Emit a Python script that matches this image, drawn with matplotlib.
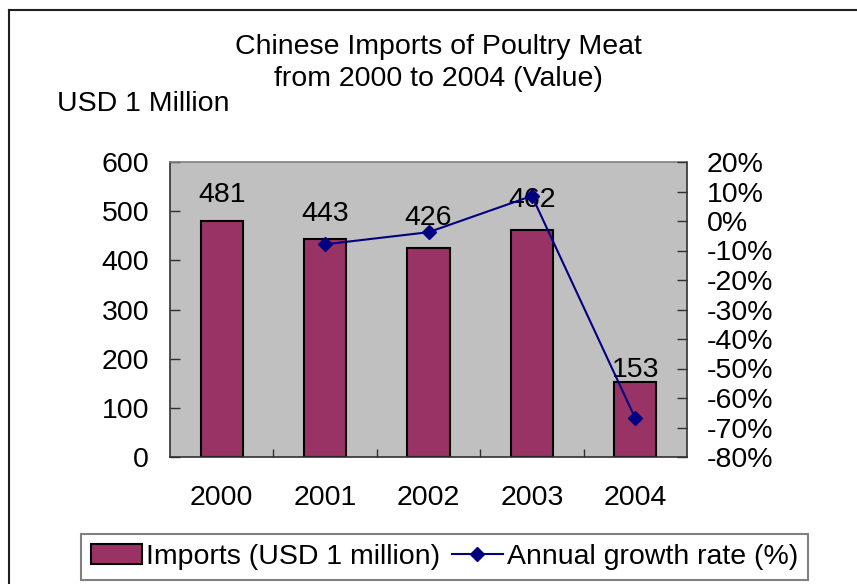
import matplotlib
matplotlib.use("Agg")
import matplotlib.pyplot as plt
from matplotlib.lines import Line2D
from matplotlib.patches import Patch
from matplotlib.ticker import FuncFormatter, MultipleLocator, FixedLocator

plt.rcParams["font.family"] = ["Liberation Sans", "DejaVu Sans"]

# Data
years = ["2000", "2001", "2002", "2003", "2004"]
imports = [481, 443, 426, 462, 153]            # USD 1 million
growth_years = ["2001", "2002", "2003", "2004"]
growth = [-7.9, -3.8, 8.5, -66.9]               # annual growth rate (%)

# Vertical offsets (points) of the value labels above each bar
label_offsets = [9, 9, 12, 12, -1]

BAR = "#993366"
LINE = "#000080"
PLOT_BG = "#C0C0C0"
FS = 20.5

fig = plt.figure(figsize=(8.57, 5.84), dpi=100)
fig.patch.set_facecolor("white")

W, H = 857, 584
left, right, top, bottom = 170, 687, 162, 457
ax = fig.add_axes([left / W, 1 - bottom / H, (right - left) / W, (bottom - top) / H])
ax.set_facecolor(PLOT_BG)

x = list(range(len(years)))
bars = ax.bar(x, imports, width=0.41, color=BAR, edgecolor="black", linewidth=1.5, zorder=2)
ax.set_xlim(-0.5, len(years) - 0.5)
ax.set_ylim(0, 600)
ax.yaxis.set_major_locator(MultipleLocator(100))
ax.set_xticks(x)
ax.set_xticklabels(years)
ax.xaxis.set_minor_locator(FixedLocator([i + 0.5 for i in range(len(years) - 1)]))
ax.tick_params(axis="x", which="major", length=0, pad=20, labelsize=FS)
ax.tick_params(axis="x", which="minor", length=6, direction="in", width=1, color="#303030")
ax.tick_params(axis="y", which="major", length=7, direction="in", width=1, pad=15,
               labelsize=FS, color="#303030")

for xi, v, off in zip(x, imports, label_offsets):
    ax.annotate(f"{v}", (xi, v), xytext=(0, off), textcoords="offset points",
                ha="center", va="bottom", fontsize=FS, zorder=5)

for name, sp in ax.spines.items():
    sp.set_linewidth(1.2)
    sp.set_color("#303030" if name in ("left", "bottom", "right") else "#808080")

ax2 = ax.twinx()
gx = [years.index(y) for y in growth_years]
ax2.plot(gx, growth, color=LINE, linewidth=1.5, marker="D", markersize=7, zorder=4)
ax2.set_ylim(-80, 20)
ax2.yaxis.set_major_locator(MultipleLocator(10))
ax2.yaxis.set_major_formatter(FuncFormatter(lambda v, p: f"{v:.0f}%"))
ax2.tick_params(axis="y", length=7, direction="in", width=1, pad=14, labelsize=FS,
                color="#303030")
for name, sp in ax2.spines.items():
    sp.set_visible(False)

# Titles
fig.text(438 / W, 1 - 47 / H, "Chinese Imports of Poultry Meat", ha="center", va="center", fontsize=FS)
fig.text(438 / W, 1 - 79 / H, "from 2000 to 2004 (Value)", ha="center", va="center", fontsize=FS)
fig.text(57 / W, 1 - 104 / H, "USD 1 Million", ha="left", va="center", fontsize=FS)

# Legend
handles = [
    Patch(facecolor=BAR, edgecolor="black", linewidth=1.5),
    Line2D([0], [0], color=LINE, linewidth=1.5, marker="D", markersize=7),
]
leg = fig.legend(handles, ["Imports (USD 1 million)", "Annual growth rate (%)"],
                 loc="center", bbox_to_anchor=((80 + 809) / 2 / W, 1 - 557 / H),
                 ncol=2, fontsize=FS, frameon=True, fancybox=False,
                 edgecolor="#808080", framealpha=1, borderpad=0.35,
                 handlelength=1.8, handleheight=0.7, handletextpad=0.15,
                 columnspacing=0.4, borderaxespad=0)
leg.get_frame().set_linewidth(1.5)

# Outer frame (left and top edges)
fig.add_artist(Line2D([9 / W, 9 / W], [0, 1 - 10 / H], color="#202020", linewidth=1.5,
                      transform=fig.transFigure))
fig.add_artist(Line2D([9 / W, 1], [1 - 10 / H, 1 - 10 / H], color="#202020", linewidth=1.5,
                      transform=fig.transFigure))

fig.savefig("out.png", dpi=100)
